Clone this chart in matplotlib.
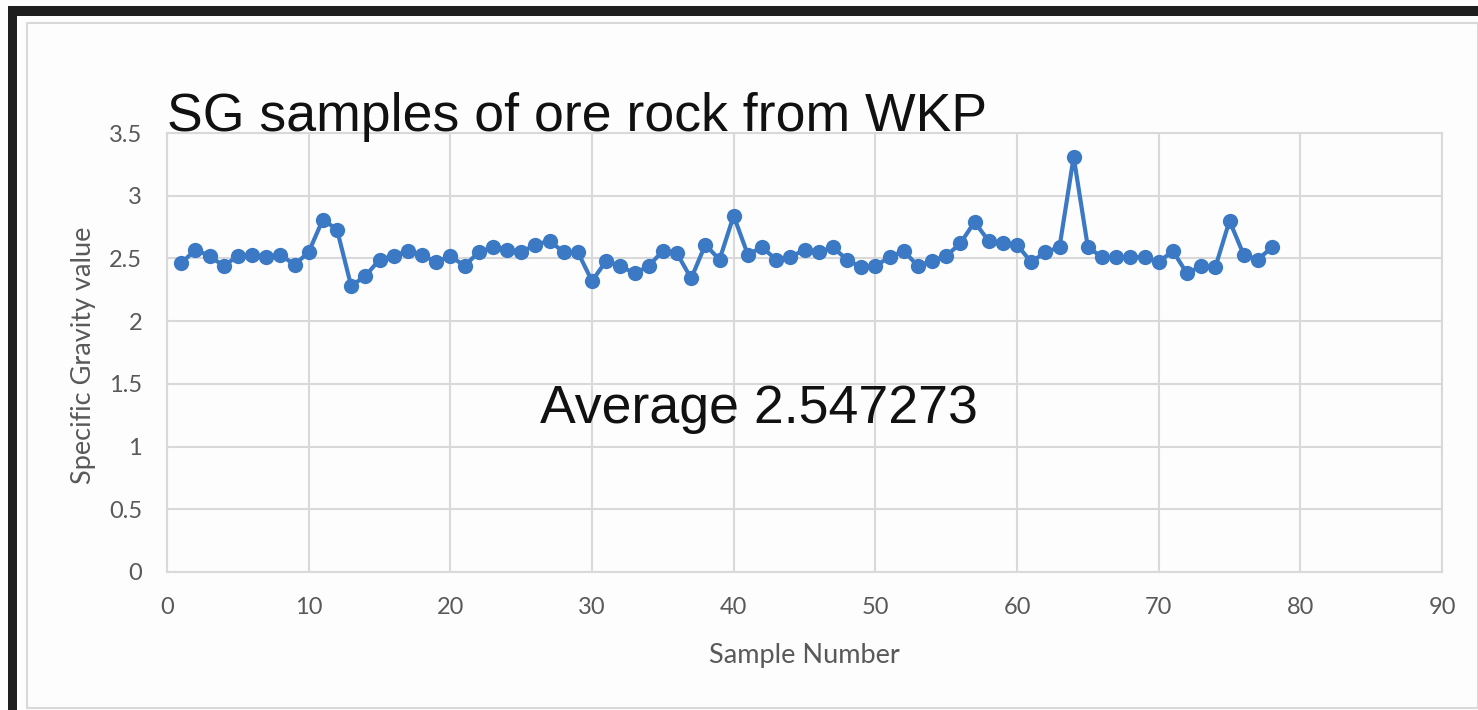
import matplotlib
matplotlib.use("Agg")
import matplotlib.pyplot as plt
from matplotlib.patches import Rectangle

# Specific gravity measurements, one per sample
sample_number = list(range(1, 79))
sg_value = [
    2.46, 2.57, 2.52, 2.44, 2.52, 2.53, 2.51, 2.53, 2.45, 2.55,
    2.81, 2.73, 2.28, 2.36, 2.49, 2.52, 2.56, 2.53, 2.47, 2.52,
    2.44, 2.55, 2.59, 2.57, 2.55, 2.61, 2.64, 2.55, 2.55, 2.32,
    2.48, 2.44, 2.38, 2.44, 2.56, 2.54, 2.34, 2.61, 2.49, 2.84,
    2.53, 2.59, 2.49, 2.51, 2.57, 2.55, 2.59, 2.49, 2.43, 2.44,
    2.51, 2.56, 2.44, 2.48, 2.52, 2.62, 2.79, 2.64, 2.62, 2.61,
    2.47, 2.55, 2.59, 3.31, 2.59, 2.51, 2.51, 2.51, 2.51, 2.47,
    2.56, 2.38, 2.44, 2.43, 2.80, 2.53, 2.49, 2.59,
]
x_ticks = [0, 10, 20, 30, 40, 50, 60, 70, 80, 90]
y_ticks = [0, 0.5, 1, 1.5, 2, 2.5, 3, 3.5]
y_tick_labels = ["0", "0.5", "1", "1.5", "2", "2.5", "3", "3.5"]

title_text = "SG samples of ore rock from WKP"
average_text = "Average 2.547273"
x_label = "Sample Number"
y_label = "Specific Gravity value"

W, H = 1478, 710
fig = plt.figure(figsize=(W / 100, H / 100), dpi=100)
fig.patch.set_facecolor("#fdfdfd")

# dark frame along the top and left edges, light chart border inside
fig.add_artist(Rectangle((8 / W, 0), 9 / W, (H - 6) / H, transform=fig.transFigure,
                         facecolor="#1e1e1e", edgecolor="none"))
fig.add_artist(Rectangle((8 / W, (H - 16) / H), (W - 8) / W, 10 / H, transform=fig.transFigure,
                         facecolor="#1e1e1e", edgecolor="none"))
fig.add_artist(Rectangle((27 / W, 2 / H), (W - 27) / W, (H - 25) / H, transform=fig.transFigure,
                         facecolor="none", edgecolor="#d9d9d9", linewidth=1.5))

left, right, bottom, top = 167, 1442, 572, 133
ax = fig.add_axes([left / W, (H - bottom) / H, (right - left) / W, (bottom - top) / H])
ax.set_facecolor("#fdfdfd")

ax.plot(sample_number, sg_value, color="#3b79c4", linewidth=3,
        marker="o", markersize=11, markeredgewidth=0, zorder=3, clip_on=False)

ax.set_xlim(0, 90)
ax.set_ylim(0, 3.5)
ax.set_xticks(x_ticks)
ax.set_yticks(y_ticks)
ax.set_yticklabels(y_tick_labels)
ax.grid(True, color="#d9d9d9", linewidth=1.5)
ax.set_axisbelow(True)
for s in ax.spines.values():
    s.set_color("#d9d9d9")
    s.set_linewidth(1.5)
ax.tick_params(length=0, labelsize=17, labelcolor="#595959")
ax.tick_params(axis="x", pad=18)
ax.tick_params(axis="y", pad=18)
for lab in ax.get_xticklabels() + ax.get_yticklabels():
    lab.set_fontfamily("Lato")

ax.set_xlabel(x_label, fontsize=19.5, color="#595959", family="Lato")
ax.set_ylabel(y_label, fontsize=19.5, color="#595959", family="Lato")
ax.xaxis.label.set_verticalalignment("center")
ax.yaxis.label.set_verticalalignment("center")
ax.xaxis.set_label_coords(0.5, (bottom - 656) / (bottom - top))
ax.yaxis.set_label_coords((84 - left) / (right - left), 0.493)

fig.text(167 / W, (H - 131) / H, title_text, fontsize=38.6, family="Liberation Sans",
         color="#111111", ha="left", va="baseline")
fig.text(540 / W, (H - 423) / H, average_text, fontsize=38.6, family="Liberation Sans",
         color="#111111", ha="left", va="baseline")

fig.savefig("out.png", dpi=100, facecolor=fig.get_facecolor())
